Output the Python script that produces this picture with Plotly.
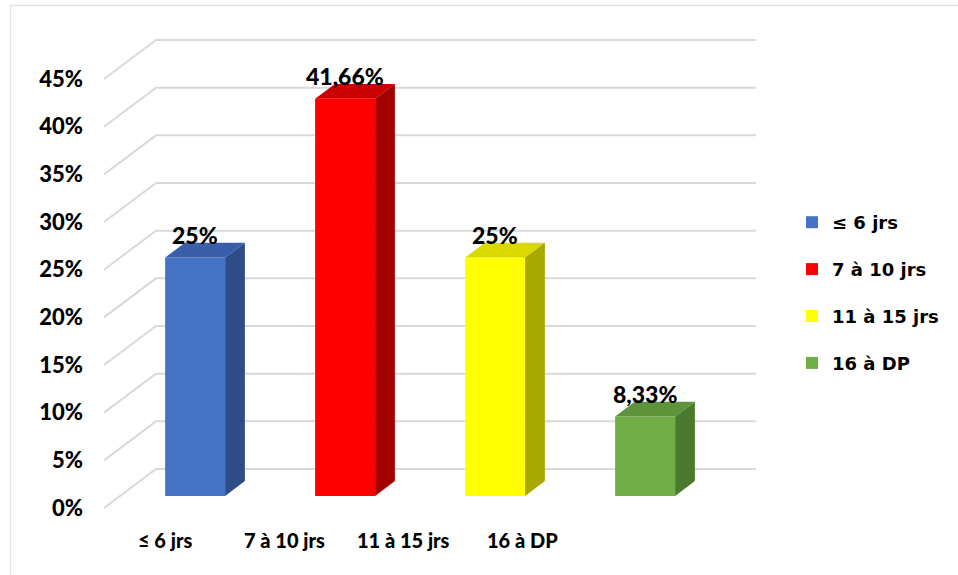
import plotly.graph_objects as go

# --- data -------------------------------------------------------------
categories = ["≤ 6 jrs", "7 à 10 jrs", "11 à 15 jrs", "16 à DP"]
values = [25, 41.66, 25, 8.33]          # percent
front_colors = ["#4472C4", "#FF0000", "#FFFF00", "#70AD47"]
top_colors = ["#3A5FA8", "#CC0000", "#D9D900", "#5E923B"]
side_colors = ["#2E4D87", "#A30000", "#A8A800", "#4B7A2E"]
y_ticks = [0, 5, 10, 15, 20, 25, 30, 35, 40, 45]

# --- geometry of the pseudo-3D frame ----------------------------------
W, H = 958, 575
PX_PER_CAT = 150.0          # horizontal pixels per category
PX_PER_PCT = 9.533          # vertical pixels per percent
FRONT_LEFT_PX = 104.0       # pixel x of the front-left wall edge
FRONT_ZERO_PX = 508.0       # pixel y of 0% on the front edge
PLOT_LEFT_PX = 86.0         # left of the plotting domain (y labels sit left of it)
DEPTH_DX = 52.0 / PX_PER_CAT    # x shift (data units) for full wall depth
DEPTH_DY = 39.0 / PX_PER_PCT    # y shift (data units) for full wall depth
Z0, Z1 = 0.31, 0.69             # bar front / back depth fraction
BAR_HALF = 0.2                  # half bar width (category units)
GRID_COLOR = "#D9D9D9"
FONT = "Lato"
HEAVY = 900

x_range = [-0.5 + (PLOT_LEFT_PX - FRONT_LEFT_PX) / PX_PER_CAT,
           -0.5 + (W - FRONT_LEFT_PX) / PX_PER_CAT]
y_range = [-(H - FRONT_ZERO_PX) / PX_PER_PCT, FRONT_ZERO_PX / PX_PER_PCT]


def proj(x, y, z):
    return x + z * DEPTH_DX, y + z * DEPTH_DY


def fmt_pct(v):
    if float(v).is_integer():
        return f"{int(v)}%"
    return f"{v:.2f}".replace(".", ",") + "%"


fig = go.Figure()

n = len(categories)

# front faces of the columns (also provide the legend entries)
for i, (cat, v) in enumerate(zip(categories, values)):
    cx, base = proj(i, 0, Z0)
    fig.add_trace(go.Bar(
        x=[cx], y=[v], base=[base], width=[2 * BAR_HALF],
        name=cat, legendgroup=cat,
        marker=dict(color=front_colors[i], line=dict(width=0)),
        hoverinfo="skip",
    ))

# top and right side faces
for i, v in enumerate(values):
    xl, xr = i - BAR_HALF, i + BAR_HALF
    top = [proj(xl, v, Z0), proj(xr, v, Z0), proj(xr, v, Z1), proj(xl, v, Z1), proj(xl, v, Z0)]
    side = [proj(xr, 0, Z0), proj(xr, v, Z0), proj(xr, v, Z1), proj(xr, 0, Z1), proj(xr, 0, Z0)]
    for pts, col in ((top, top_colors[i]), (side, side_colors[i])):
        fig.add_trace(go.Scatter(
            x=[p[0] for p in pts], y=[p[1] for p in pts],
            mode="lines", fill="toself", fillcolor=col,
            line=dict(width=0, color=col),
            showlegend=False, hoverinfo="skip",
        ))

# gridlines: left wall diagonal + back wall horizontal
shapes = []
for t in y_ticks:
    x0, y0 = -0.5, t
    x1, y1 = proj(-0.5, t, 1.0)
    x2, _ = proj(n - 0.5, t, 1.0)
    shapes.append(dict(
        type="path", xref="x", yref="y", layer="below",
        path=f"M{x0},{y0} L{x1},{y1} L{x2},{y1}",
        line=dict(color=GRID_COLOR, width=2),
    ))

# chart-area border (top and left edges visible)
shapes.append(dict(
    type="rect", xref="paper", yref="paper", layer="below",
    x0=10.5 / W, x1=1.02, y0=-0.02, y1=1 - 5.5 / H,
    line=dict(color="#E3E3E3", width=1.5),
))

annotations = []
# value labels above each column
for i, v in enumerate(values):
    ax, ay = proj(i, v, Z0)
    annotations.append(dict(
        x=ax, y=ay, xref="x", yref="y", text=fmt_pct(v), showarrow=False,
        yanchor="middle", yshift=23,
        font=dict(family=FONT, size=23, color="#000000", weight=HEAVY),
    ))

# category labels under the floor
X_LABEL0 = -0.5 + (165 - FRONT_LEFT_PX) / PX_PER_CAT
X_LABEL_STEP = 119.3 / PX_PER_CAT
Y_LABEL = -(540 - FRONT_ZERO_PX) / PX_PER_PCT
for k, cat in enumerate(categories):
    annotations.append(dict(
        x=X_LABEL0 + k * X_LABEL_STEP, y=Y_LABEL, xref="x", yref="y",
        text=cat, showarrow=False, yanchor="middle",
        font=dict(family=FONT, size=20, color="#000000", weight=HEAVY),
    ))

fig.update_layout(
    width=W, height=H,
    margin=dict(l=0, r=0, t=0, b=0),
    paper_bgcolor="white", plot_bgcolor="white",
    barmode="overlay",
    showlegend=True,
    legend=dict(
        x=792 / W, y=1 - 204 / H, xanchor="left", yanchor="top",
        font=dict(family="DejaVu Sans", size=18, color="#000000", weight="bold"),
        tracegroupgap=20.5, bgcolor="rgba(0,0,0,0)",
    ),
    xaxis=dict(
        domain=[PLOT_LEFT_PX / W, 1], range=x_range, visible=True,
        showgrid=False, zeroline=False, showline=False, showticklabels=False,
        ticks="", fixedrange=True,
    ),
    yaxis=dict(
        domain=[0, 1], range=y_range,
        showgrid=False, zeroline=False, showline=False, ticks="",
        tickvals=y_ticks, ticktext=[f"{t}%" for t in y_ticks],
        tickfont=dict(family=FONT, size=22, color="#000000", weight=HEAVY),
        ticklabelstandoff=2, fixedrange=True,
    ),
    shapes=shapes,
    annotations=annotations,
)

fig.write_html("out.html")
